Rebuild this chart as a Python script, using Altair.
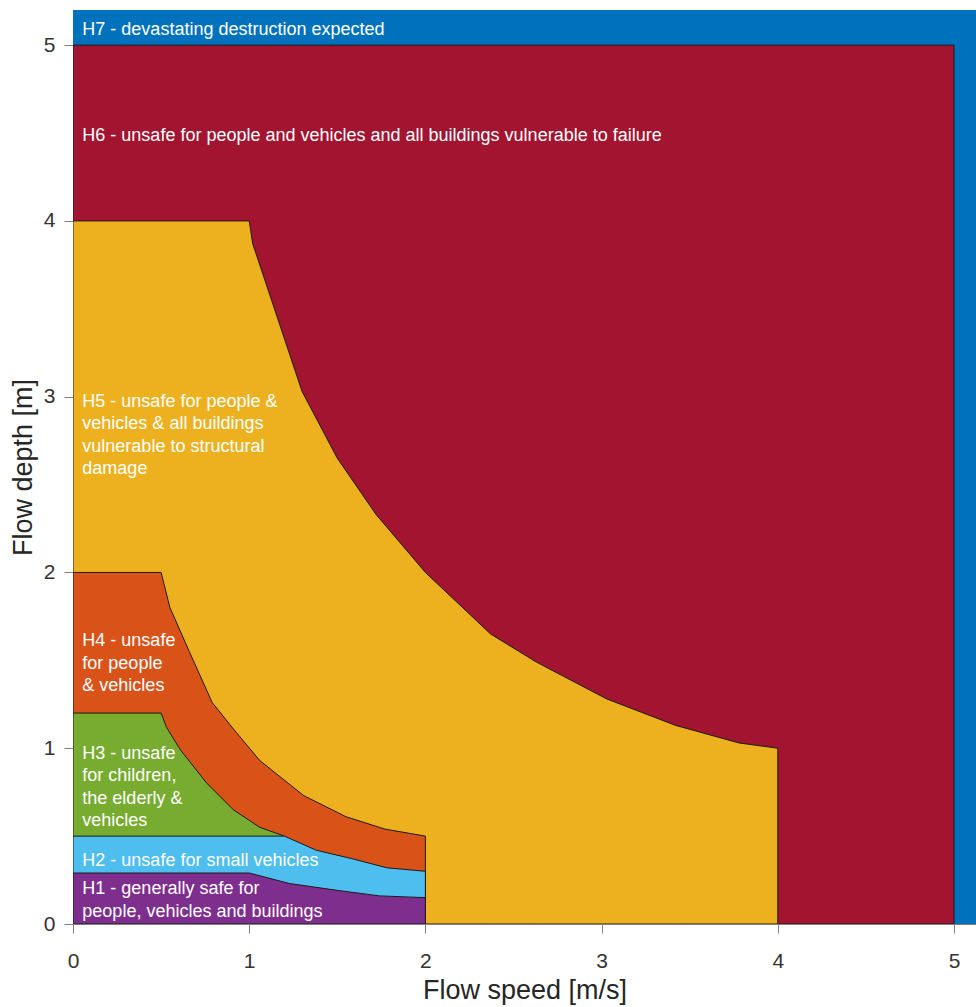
import altair as alt
import pandas as pd

# ---- zone boundaries (flow speed v [m/s], flow depth d [m]) ----
h5_v = [0.0, 1.0, 1.02, 1.30, 1.50, 1.72, 2.00, 2.37, 2.63, 3.03, 3.42, 3.78, 4.00]
h5_d = [4.0, 4.0, 3.87, 3.03, 2.65, 2.33, 2.00, 1.65, 1.49, 1.28, 1.13, 1.03, 1.00]

h4_v = [0.0, 0.5, 0.55, 0.66, 0.79, 0.91, 1.06, 1.31, 1.55, 1.77, 2.00]
h4_d = [2.0, 2.0, 1.80, 1.55, 1.26, 1.11, 0.93, 0.73, 0.61, 0.54, 0.50]

h3_v = [0.0, 0.5, 0.53, 0.61, 0.76, 0.91, 1.06, 1.20]
h3_d = [1.2, 1.2, 1.12, 0.99, 0.80, 0.65, 0.55, 0.50]

h2_v = [0.0, 1.20, 1.38, 1.59, 1.78, 2.00]
h2_d = [0.5, 0.50, 0.42, 0.37, 0.32, 0.30]

h1_v = [0.0, 1.00, 1.23, 1.51, 1.74, 2.00]
h1_d = [0.29, 0.29, 0.23, 0.19, 0.16, 0.15]

# rectangular zones: H7 (whole view) and H6 (0..5 x 0..5)
rect_zone = ["H7", "H6"]
rect_v0 = [0.0, 0.0]
rect_v1 = [5.125, 5.0]
rect_d0 = [0.0, 0.0]
rect_d1 = [5.2, 5.0]

zone_colors = {
    "H1": "#7E2F8E",
    "H2": "#4DBEEE",
    "H3": "#77AC30",
    "H4": "#D95319",
    "H5": "#EDB120",
    "H6": "#A2142F",
    "H7": "#0072BD",
}

# ---- labels ----
label_text = [
    "H7 - devastating destruction expected",
    "H6 - unsafe for people and vehicles and all buildings vulnerable to failure",
    "H5 - unsafe for people &\nvehicles & all buildings\nvulnerable to structural\ndamage",
    "H4 - unsafe\nfor people\n& vehicles",
    "H3 - unsafe\nfor children,\nthe elderly &\nvehicles",
    "H2 - unsafe for small vehicles",
    "H1 - generally safe for\npeople, vehicles and buildings",
]
label_v = [0.053] * 7
label_d = [5.138, 4.536, 3.023, 1.660, 1.020, 0.411, 0.249]

x_ticks = [0, 1, 2, 3, 4, 5]
y_ticks = [0, 1, 2, 3, 4, 5]
x_domain = [0, 5.125]
y_domain = [0, 5.2]

FONT = "Liberation Sans"

xs = alt.Scale(domain=x_domain, nice=False)
ys = alt.Scale(domain=y_domain, nice=False)

x_axis = alt.Axis(values=x_ticks, title="Flow speed [m/s]", grid=False, tickSize=9,
                  labelFontSize=21, titleFontSize=27, labelPadding=17, titlePadding=6,
                  labelFont=FONT, titleFont=FONT, labelColor="#333333", titleColor="#262626",
                  titleFontWeight="normal", domainColor="#808080", tickColor="#808080",
                  labelFlush=False)
y_axis = alt.Axis(values=y_ticks, title="Flow depth [m]", grid=False, tickSize=9,
                  labelFontSize=21, titleFontSize=27, labelPadding=9, titlePadding=6,
                  labelFont=FONT, titleFont=FONT, labelColor="#333333", titleColor="#262626",
                  titleFontWeight="normal", domainColor="#808080", tickColor="#808080",
                  labelFlush=False)

rect_df = pd.DataFrame({"zone": rect_zone, "v0": rect_v0, "v1": rect_v1,
                        "d0": rect_d0, "d1": rect_d1})

layers = []
for z in rect_zone:
    sub = rect_df[rect_df["zone"] == z]
    mark_kwargs = dict(color=zone_colors[z], clip=True)
    if z == "H6":
        mark_kwargs.update(stroke="#1a1a1a", strokeWidth=1)
    layers.append(
        alt.Chart(sub).mark_rect(**mark_kwargs).encode(
            x=alt.X("v0:Q", scale=xs, axis=x_axis),
            x2="v1:Q",
            y=alt.Y("d0:Q", scale=ys, axis=y_axis),
            y2="d1:Q",
        )
    )

for z, vv, dd in [("H5", h5_v, h5_d), ("H4", h4_v, h4_d), ("H3", h3_v, h3_d),
                  ("H2", h2_v, h2_d), ("H1", h1_v, h1_d)]:
    df = pd.DataFrame({"v": vv, "d": dd})
    layers.append(
        alt.Chart(df).mark_area(color=zone_colors[z], stroke="#1a1a1a", strokeWidth=1,
                                clip=True, interpolate="linear", orient="vertical").encode(
            x=alt.X("v:Q", scale=xs, axis=x_axis),
            y=alt.Y("d:Q", scale=ys, axis=y_axis, stack=None),
        )
    )

lab_df = pd.DataFrame({"text": label_text, "v": label_v, "d": label_d})
layers.append(
    alt.Chart(lab_df).mark_text(align="left", baseline="top", fontSize=18, font=FONT,
                                color="white", lineBreak="\n", lineHeight=22.5).encode(
        x=alt.X("v:Q", scale=xs, axis=x_axis),
        y=alt.Y("d:Q", scale=ys, axis=y_axis),
        text="text:N",
    )
)

chart = alt.layer(*layers).properties(
    width=903, height=914,
    autosize=alt.AutoSizeParams(type="none"),
    padding={"left": 73, "top": 10, "right": 0, "bottom": 83},
).configure_view(stroke=None).configure(background="white")

chart.save("out.html", embed_options={"renderer": "svg", "actions": False})
